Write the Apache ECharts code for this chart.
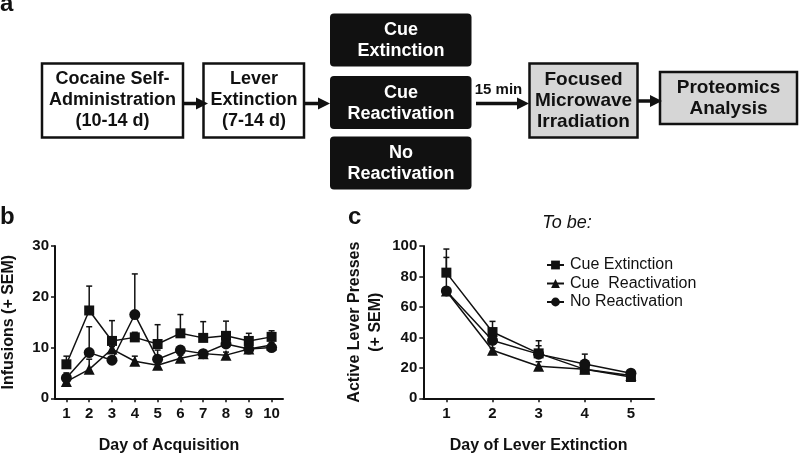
<!DOCTYPE html>
<html><head><meta charset="utf-8">
<script src="https://cdn.jsdelivr.net/npm/echarts@6/dist/echarts.min.js"></script>
<style>html,body{margin:0;padding:0;background:#fff}#c{width:800px;height:457px}</style>
</head><body><div id="c"></div>
<script>
// ---- Data ----
const daysAcq = ['1','2','3','4','5','6','7','8','9','10'];
const cueExtB = [6.7,17.3,11.3,12.0,10.7,12.8,11.9,12.3,11.3,12.1];
const cueExtBsem = [1.6,4.8,4.0,1.0,3.8,3.7,3.2,2.9,1.5,1.2];
const cueReactB = [3.3,5.7,9.7,7.3,6.5,7.9,8.8,8.5,9.7,10.5];
const cueReactBsem = [0.6,2.0,0.5,1.0,0.5,0.6,0.6,0.6,0.5,0.5];
const noReactB = [4.0,9.0,7.5,16.5,7.7,9.5,8.8,10.7,9.7,10.0];
const noReactBsem = [1.0,5.1,0.6,8.0,1.8,0.7,0.6,0.7,0.5,0.5];

const daysExt = ['1','2','3','4','5'];
const cueExtC = [82.5,43.5,29.5,19.0,14.0];
const cueExtCsem = [15.5,7.0,8.3,3.0,1.5];
const cueReactC = [70.5,31.5,21.0,19.0,15.0];
const cueReactCsem = [1.5,1.5,3.0,1.0,1.0];
const noReactC = [70.5,38.0,29.0,22.5,16.5];
const noReactCsem = [22.0,4.0,5.5,6.5,1.0];

const seriesNames = ['Cue Extinction','Cue  Reactivation','No Reactivation'];
const yTicksB = [0,10,20,30];
const yTicksC = [0,20,40,60,80,100];

// ---- Styling ----
const FF = "'Liberation Sans', Arial, sans-serif";
const INK = '#111';
const chart = echarts.init(document.getElementById('c'));

function errSeries(vals, sems, axisIdx) {
  return {
    type: 'custom', xAxisIndex: axisIdx, yAxisIndex: axisIdx, z: 1, silent: true,
    data: vals.map((v, i) => [i, v, sems[i]]),
    renderItem: function (params, api) {
      const i = api.value(0), v = api.value(1), e = api.value(2);
      const p0 = api.coord([i, v]);
      const p1 = api.coord([i, v + e]);
      return { type: 'group', children: [
        { type: 'line', shape: { x1: p0[0], y1: p0[1], x2: p1[0], y2: p1[1] }, style: { stroke: INK, lineWidth: 1.5 } },
        { type: 'line', shape: { x1: p1[0] - 3, y1: p1[1], x2: p1[0] + 3, y2: p1[1] }, style: { stroke: INK, lineWidth: 1.5 } }
      ]};
    }
  };
}
function lineSeries(name, vals, symbol, size, axisIdx) {
  return {
    type: 'line', name: name, xAxisIndex: axisIdx, yAxisIndex: axisIdx, z: 3,
    data: vals, symbol: symbol, symbolSize: size, showAllSymbol: true,
    itemStyle: { color: INK, opacity: 1 }, lineStyle: { color: INK, width: 1.5 },
    emphasis: { disabled: true }, animation: false
  };
}
function yAxis(idx, max, interval, name, gap, lh) {
  return {
    gridIndex: idx, type: 'value', min: 0, max: max, interval: interval,
    splitLine: { show: false },
    axisLine: { show: true, lineStyle: { color: INK, width: 2 } },
    axisTick: { show: true, length: 4, lineStyle: { color: INK, width: 1.5 } },
    axisLabel: { color: INK, fontFamily: FF, fontWeight: 'bold', fontSize: 15, margin: 6 },
    name: name, nameLocation: 'middle', nameGap: gap, nameRotate: 90,
    nameTextStyle: { color: INK, fontFamily: FF, fontWeight: 'bold', fontSize: 16, lineHeight: lh }
  };
}
function xAxis(idx, cats, name) {
  return {
    gridIndex: idx, type: 'category', data: cats, boundaryGap: true,
    axisLine: { show: true, lineStyle: { color: INK, width: 2 } },
    axisTick: { show: true, alignWithLabel: true, length: 4, lineStyle: { color: INK, width: 1.5 } },
    axisLabel: { color: INK, fontFamily: FF, fontWeight: 'bold', fontSize: 15, margin: 8, interval: 0 },
    name: name, nameLocation: 'middle', nameGap: 39,
    nameTextStyle: { color: INK, fontFamily: FF, fontWeight: 'bold', fontSize: 16 }
  };
}

// ---- Diagram (panel a) ----
function box(x, y, w, h, fill, r) {
  return { type: 'rect', shape: { x: x, y: y, width: w, height: h, r: r || 0 }, style: { fill: fill, stroke: INK, lineWidth: 2.5 }, silent: true };
}
function label(text, x, y, color, size) {
  return { type: 'text', silent: true, style: { text: text, x: x, y: y, align: 'center', verticalAlign: 'middle',
    font: 'bold ' + (size || 18) + 'px ' + FF, fill: color || INK, lineHeight: 21 } };
}
function arrow(x1, x2, y) {
  return [
    { type: 'line', silent: true, shape: { x1: x1, y1: y, x2: x2 - 10, y2: y }, style: { stroke: INK, lineWidth: 3.5 } },
    { type: 'polygon', silent: true, shape: { points: [[x2 - 12, y - 6], [x2, y], [x2 - 12, y + 6]] }, style: { fill: INK } }
  ];
}
const graphics = [
  { type: 'text', silent: true, style: { text: 'a', x: 0, y: 16, font: 'bold 24px ' + FF, fill: INK, verticalAlign: 'bottom' } },
  { type: 'text', silent: true, style: { text: 'b', x: 0, y: 229, font: 'bold 24px ' + FF, fill: INK, verticalAlign: 'bottom' } },
  { type: 'text', silent: true, style: { text: 'c', x: 348, y: 229, font: 'bold 24px ' + FF, fill: INK, verticalAlign: 'bottom' } },
  { type: 'text', silent: true, style: { text: 'To be:', x: 567, y: 223, font: 'italic 18px ' + FF, fill: INK, align: 'center', verticalAlign: 'middle' } },
  box(42, 63.5, 141, 74, '#fff'),
  label('Cocaine Self-\nAdministration\n(10-14 d)', 112.5, 100),
  box(203.5, 63.5, 100.5, 74, '#fff'),
  label('Lever\nExtinction\n(7-14 d)', 254, 100),
  { type: 'rect', silent: true, shape: { x: 330, y: 13.5, width: 141.5, height: 53, r: 4 }, style: { fill: INK } },
  label('Cue\nExtinction', 401, 41, '#fff'),
  { type: 'rect', silent: true, shape: { x: 330, y: 76, width: 141.5, height: 53, r: 4 }, style: { fill: INK } },
  label('Cue\nReactivation', 401, 103.5, '#fff'),
  { type: 'rect', silent: true, shape: { x: 330, y: 136.5, width: 141.5, height: 53, r: 4 }, style: { fill: INK } },
  label('No\nReactivation', 401, 164, '#fff'),
  { type: 'text', silent: true, style: { text: '15 min', x: 498.5, y: 89.5, align: 'center', verticalAlign: 'middle', font: 'bold 15px ' + FF, fill: INK } },
  box(529.5, 63.5, 108, 74, '#d6d6d6'),
  label('Focused\nMicrowave\nIrradiation', 583.5, 101, INK, 19),
  box(660, 72, 137, 52, '#d6d6d6'),
  label('Proteomics\nAnalysis', 728.5, 98, INK, 19)
].concat(arrow(183, 208, 103.5), arrow(304, 330, 103.5), arrow(476, 529, 103.5), arrow(638, 662, 101));

const option = {
  backgroundColor: '#fff',
  animation: false,
  graphic: graphics,
  grid: [
    { left: 55, top: 246, width: 228, height: 152.3 },
    { left: 423.3, top: 246, width: 230.7, height: 152.3 }
  ],
  legend: {
    data: seriesNames, orient: 'vertical', left: 541, top: 252, itemWidth: 17, itemHeight: 11, itemGap: 2.5,
    textStyle: { color: INK, fontFamily: FF, fontSize: 16, padding: [0, 0, 0, 1] },
    selectedMode: false
  },
  xAxis: [ xAxis(0, daysAcq, 'Day of Acquisition'), xAxis(1, daysExt, 'Day of Lever Extinction') ],
  yAxis: [ yAxis(0, 30, 10, 'Infusions (+ SEM)', 38, 16), yAxis(1, 100, 20, 'Active Lever Presses\n(+ SEM)', 37, 21) ],
  series: [
    errSeries(cueExtB, cueExtBsem, 0), errSeries(cueReactB, cueReactBsem, 0), errSeries(noReactB, noReactBsem, 0),
    lineSeries(seriesNames[0], cueExtB, 'rect', 10, 0),
    lineSeries(seriesNames[1], cueReactB, 'triangle', 11, 0),
    lineSeries(seriesNames[2], noReactB, 'circle', 11, 0),
    errSeries(cueExtC, cueExtCsem, 1), errSeries(cueReactC, cueReactCsem, 1), errSeries(noReactC, noReactCsem, 1),
    lineSeries(seriesNames[0], cueExtC, 'rect', 10, 1),
    lineSeries(seriesNames[1], cueReactC, 'triangle', 11, 1),
    lineSeries(seriesNames[2], noReactC, 'circle', 11, 1)
  ]
};
chart.setOption(option);
</script></body></html>
